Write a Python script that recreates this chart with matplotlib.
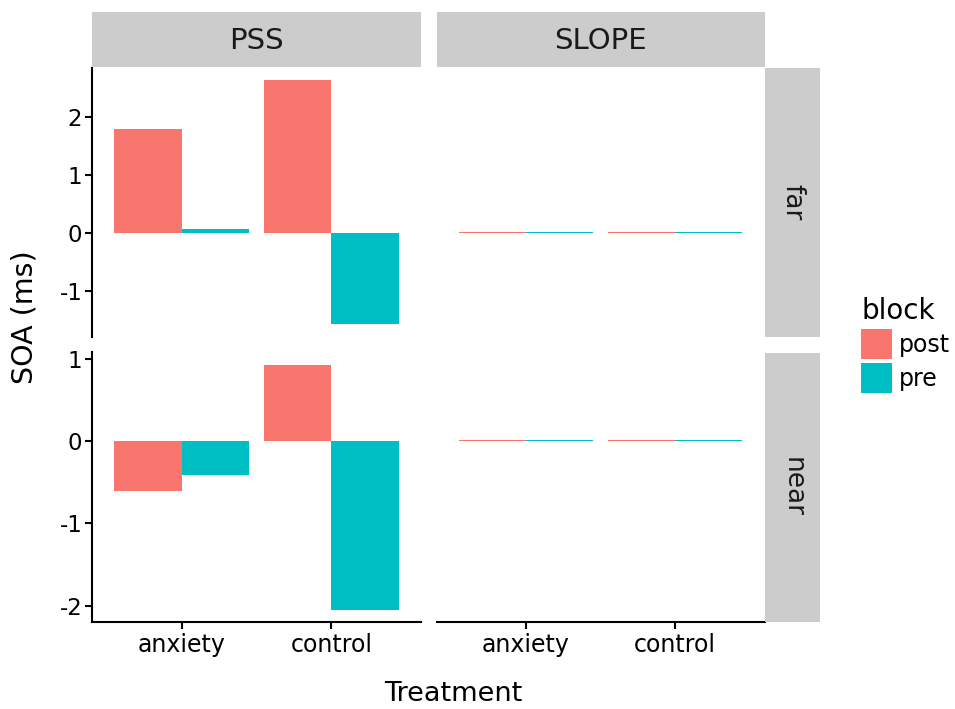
import matplotlib
matplotlib.use("Agg")
import matplotlib.pyplot as plt
from matplotlib.patches import Patch
from matplotlib.ticker import MultipleLocator

plt.rcParams["axes.unicode_minus"] = False

treatments = ["anxiety", "control"]
blocks = ["post", "pre"]
params = ["PSS", "SLOPE"]
distances = ["far", "near"]

# mean SOA difference per treatment (anxiety, control)
pss_far_post = [1.80, 2.65]
pss_far_pre = [0.06, -1.58]
pss_near_post = [-0.61, 0.93]
pss_near_pre = [-0.41, -2.05]
slope_far_post = [0.01, 0.01]
slope_far_pre = [0.01, 0.01]
slope_near_post = [0.01, 0.02]
slope_near_pre = [0.01, 0.01]

data = {
    ("far", "PSS"): (pss_far_post, pss_far_pre),
    ("far", "SLOPE"): (slope_far_post, slope_far_pre),
    ("near", "PSS"): (pss_near_post, pss_near_pre),
    ("near", "SLOPE"): (slope_near_post, slope_near_pre),
}
colors = {"post": "#F8766D", "pre": "#00BFC4"}
strip_bg = "#CCCCCC"

W, H = 955, 709
fig = plt.figure(figsize=(W / 100, H / 100), dpi=100)


def rect(x0, y0, x1, y1):
    return [x0 / W, 1 - y1 / H, (x1 - x0) / W, (y1 - y0) / H]


col_px = [(92, 421), (436.5, 764.5)]
row_px = [(67.5, 336.5), (352.5, 622)]
top_strip = (12, 67)
right_strip = (765, 820)

for r, dist in enumerate(distances):
    vals = []
    for p in params:
        post, pre = data[(dist, p)]
        vals += post + pre
    lo, hi = min(0, min(vals)), max(0, max(vals))
    pad = 0.05 * (hi - lo)

    for c, p in enumerate(params):
        ax = fig.add_axes(rect(col_px[c][0], row_px[r][0], col_px[c][1], row_px[r][1]))
        post, pre = data[(dist, p)]
        xs = range(len(treatments))
        ax.bar([x - 0.225 for x in xs], post, width=0.45, color=colors["post"], linewidth=0)
        ax.bar([x + 0.225 for x in xs], pre, width=0.45, color=colors["pre"], linewidth=0)
        ax.set_xlim(-0.6, len(treatments) - 0.4)
        ax.set_ylim(lo - pad, hi + pad)
        ax.yaxis.set_major_locator(MultipleLocator(1))
        ax.set_xticks(list(xs))
        ax.set_xticklabels(treatments)

        for s in ax.spines.values():
            s.set_visible(False)
        ax.tick_params(width=1.5, length=5, color="black", labelcolor="black")
        ax.tick_params(axis="y", labelsize=16.5, pad=2)
        ax.tick_params(axis="x", labelsize=17, pad=3)
        if c == 0:
            ax.spines["left"].set_visible(True)
            ax.spines["left"].set_linewidth(1.5)
        else:
            ax.tick_params(left=False, labelleft=False)
        if r == 1:
            ax.spines["bottom"].set_visible(True)
            ax.spines["bottom"].set_linewidth(1.5)
        else:
            ax.tick_params(bottom=False, labelbottom=False)

        # column strip on top
        if r == 0:
            sax = fig.add_axes(rect(col_px[c][0], top_strip[0], col_px[c][1], top_strip[1]))
            sax.set_facecolor(strip_bg)
            sax.set_xticks([]); sax.set_yticks([])
            for s in sax.spines.values():
                s.set_visible(False)
            sax.text(0.5, 0.48, p, ha="center", va="center", fontsize=21, color="#1a1a1a")

    # row strip on the right
    rax = fig.add_axes(rect(right_strip[0], row_px[r][0], right_strip[1], row_px[r][1]))
    rax.set_facecolor(strip_bg)
    rax.set_xticks([]); rax.set_yticks([])
    for s in rax.spines.values():
        s.set_visible(False)
    rax.text(0.5, 0.5, dist, ha="center", va="center", rotation=-90, fontsize=19, color="#1a1a1a")

# axis titles centred over panels plus strips
fig.text(25 / W, 1 - 317 / H, "SOA (ms)", rotation=90, ha="center", va="center", fontsize=20.5)
fig.text(453 / W, 1 - 694 / H, "Treatment", ha="center", va="center", fontsize=19.5)

handles = [Patch(facecolor=colors[b], edgecolor="none", label=b) for b in blocks]
fig.legend(handles=handles, title="block", loc="upper left",
           bbox_to_anchor=(861 / W, 1 - 297 / H), frameon=False,
           fontsize=17, title_fontsize=20, alignment="left",
           handlelength=1.3, handleheight=1.58, labelspacing=0.17,
           handletextpad=0.3, borderpad=0, borderaxespad=0)

fig.savefig("out.png", dpi=100)
